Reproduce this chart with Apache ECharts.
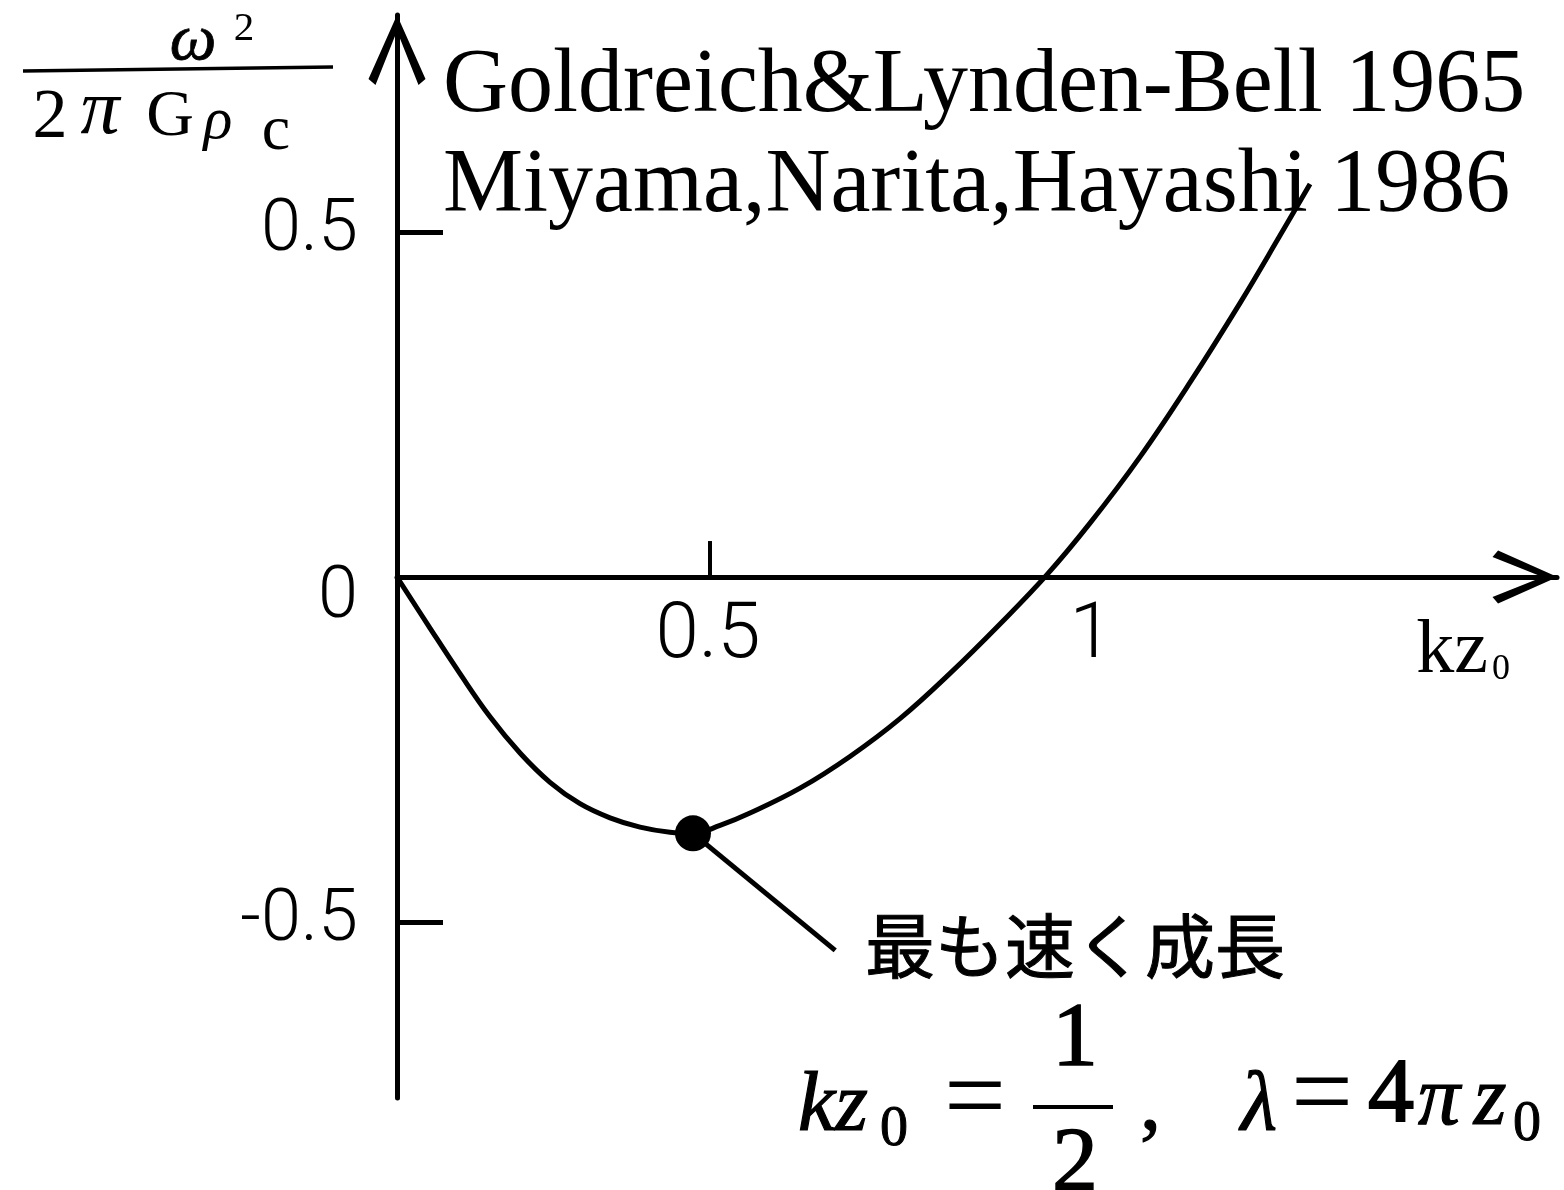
<!DOCTYPE html>
<html>
<head>
<meta charset="utf-8">
<title>ω² / 2πGρc — kz₀</title>
<script src="https://cdn.jsdelivr.net/npm/echarts@6/dist/echarts.min.js"></script>
<style>
  html, body { margin: 0; padding: 0; background: #fff; }
  #chart { width: 1564px; height: 1190px; }
</style>
</head>
<body>
<div id="chart"></div>
<script>
// Dispersion curve of the self-gravitating isothermal sheet:
// growth rate ω²/(2πGρc) against wavenumber kz₀.
const kz = [0, 0.0527, 0.1006, 0.1486, 0.1965, 0.2444, 0.2923, 0.3403, 0.3882, 0.4361, 0.4728,
            0.5160, 0.5639, 0.6438, 0.7236, 0.8035, 0.8834, 0.9633, 1.0383, 1.1070, 1.1869,
            1.2668, 1.3466, 1.4105, 1.4585];
const omega2 = [0, -0.0740, -0.1400, -0.2025, -0.2550, -0.2975, -0.3285, -0.3490, -0.3625, -0.3700, -0.3715,
                -0.3600, -0.3420, -0.3060, -0.2600, -0.2052, -0.1396, -0.0680, 0.0035, 0.0781, 0.1742,
                0.2820, 0.3970, 0.4948, 0.5696];

// Fastest-growing mode and the end of the leader line pointing at its caption
const fastestKz = [0.4728];
const fastestOmega2 = [-0.3715];
const leaderEnd = [0.700, -0.541];

// Tick labels and tick marks
const xTickLabels = [0.5, 1];
const xTickMarks = [0.5];
const yTickLabels = [-0.5, 0, 0.5];
const yTickMarks = [-0.5, 0.5];

const SERIF = '"Liberation Serif", "Times New Roman", serif';
const DIGITS = 'Roboto, "Liberation Sans", sans-serif';
const CJK = '"Noto Sans CJK JP", sans-serif';

const chart = echarts.init(document.getElementById('chart'), null, { renderer: 'canvas' });

// open chevron arrow head, tip at the top
const chevron = 'path://M28.5,0 L57,64 L50,70 L28.5,16 L7,70 L0,64 Z';

function txt(text, x, y, font, align, heavy) {
  const style = {
    text: text, x: x, y: y, font: font, fill: '#000',
    align: align || 'center', textAlign: align || 'center',
    verticalAlign: 'middle', textVerticalAlign: 'middle'
  };
  if (heavy) { style.stroke = '#000'; style.lineWidth = heavy; }
  return { type: 'text', silent: true, style: style };
}
function seg(x1, y1, x2, y2, w) {
  return {
    type: 'line', silent: true,
    shape: { x1: x1, y1: y1, x2: x2, y2: y2 },
    style: { stroke: '#000', lineWidth: w }
  };
}

const option = {
  animation: false,
  backgroundColor: '#fff',
  grid: { left: 397, right: 7, top: 15, bottom: 92, containLabel: false, outerBoundsMode: 'none' },
  xAxis: {
    type: 'value',
    min: 0,
    max: 1.853,
    splitLine: { show: false },
    axisLine: {
      onZero: true,
      lineStyle: { color: '#000', width: 5 },
      symbol: ['none', chevron],
      symbolSize: [53, 65],
      symbolOffset: [0, -32]
    },
    axisTick: { show: true, inside: true, length: 36, customValues: xTickMarks,
                lineStyle: { color: '#000', width: 4 } },
    // labels of this axis are drawn next to the zero line below
    axisLabel: { show: false },
    name: '{k|kz}{s|0}',
    nameLocation: 'end',
    nameGap: -47,
    nameTextStyle: {
      align: 'right',
      verticalAlign: 'top',
      padding: [37, 0, 0, 0],
      rich: {
        k: { fontFamily: SERIF, fontSize: 76, color: '#000', verticalAlign: 'bottom' },
        s: { fontFamily: SERIF, fontSize: 36, color: '#000', verticalAlign: 'bottom', padding: [0, 0, 2, 4] }
      }
    }
  },
  yAxis: {
    type: 'value',
    min: -0.755,
    max: 0.8145,
    splitLine: { show: false },
    axisLine: {
      onZero: true,
      lineStyle: { color: '#000', width: 5 },
      symbol: ['none', chevron],
      symbolSize: [57, 70],
      symbolOffset: [0, -35]
    },
    axisTick: { show: true, inside: true, length: 46, customValues: yTickMarks,
                lineStyle: { color: '#000', width: 5 } },
    axisLabel: {
      customValues: yTickLabels,
      margin: 39,
      color: '#000',
      formatter: function (v) { return v === 0 ? '{z|0}' : '{n|' + v + '}'; },
      rich: {
        n: { fontFamily: DIGITS, fontWeight: 300, fontSize: 72, color: '#000' },
        z: { fontFamily: DIGITS, fontWeight: 300, fontSize: 72, color: '#000', padding: [44, 0, 0, 0] }
      }
    }
  },
  series: [
    {
      type: 'line',
      data: kz.map(function (x, i) { return [x, omega2[i]]; }),
      smooth: 0.4,
      showSymbol: false,
      lineStyle: { color: '#000', width: 5 },
      z: 3
    },
    {
      type: 'scatter',
      data: fastestKz.map(function (x, i) { return [x, fastestOmega2[i]]; }),
      symbol: 'circle',
      symbolSize: 36,
      itemStyle: { color: '#000', opacity: 1 },
      z: 4,
      markLine: {
        silent: true,
        symbol: ['none', 'none'],
        label: { show: false },
        lineStyle: { color: '#000', width: 5, type: 'solid', opacity: 1 },
        data: [[
          { coord: [fastestKz[0], fastestOmega2[0]] },
          { coord: leaderEnd }
        ]]
      }
    }
  ],
  graphic: [
    // vertical axis title: ω² / (2π G ρc)
    txt('ω', 193, 42, 'italic 66px ' + SERIF, 'center', 0.8),
    txt('2', 244, 29, '41px ' + SERIF),
    seg(23, 71, 333, 67, 3.5),
    txt('2', 50, 119, '70px ' + SERIF),
    txt('π', 100, 112, 'italic 78px ' + SERIF),
    txt('G', 170, 118, '66px ' + SERIF),
    txt('ρ', 218, 122, 'italic 60px ' + SERIF),
    txt('c', 276, 132, '64px ' + SERIF),

    // references
    txt('Goldreich&Lynden-Bell 1965', 443, 87, '90px ' + SERIF, 'left'),
    txt('Miyama,Narita,Hayashi 1986', 443, 187, '90px ' + SERIF, 'left'),

    // caption of the fastest-growing mode
    txt('最も速く成長', 865, 946, '70px ' + CJK, 'left', 1),

    // kz0 = 1/2 ,  λ = 4π z0
    txt('kz', 798, 1108, 'italic 84px ' + SERIF, 'left', 1.2),
    txt('0', 880, 1130, '56px ' + SERIF, 'left', 1),
    txt('=', 975, 1103, '110px ' + SERIF),
    txt('1', 1075, 1041, '92px ' + SERIF, 'center', 1.5),
    seg(1033, 1107, 1113, 1107, 4),
    txt('2', 1075, 1166, '92px ' + SERIF, 'center', 1.5),
    txt(',', 1140, 1107, '84px ' + SERIF, 'left', 1.2),
    txt('λ', 1259, 1107, 'italic 84px ' + SERIF, 'center', 1.2),
    txt('=', 1322, 1099, '110px ' + SERIF),
    txt('4', 1391, 1097, '92px ' + SERIF, 'center', 2),
    txt('π', 1439, 1102, 'italic 84px ' + SERIF, 'center', 1.2),
    txt('z', 1490, 1102, 'italic 84px ' + SERIF, 'center', 1.2),
    txt('0', 1527, 1125, '56px ' + SERIF, 'center', 1)
  ]
};

chart.setOption(option);

// Tick labels of the horizontal axis, placed under the zero line at each value's position
const xLabelShift = { 0.5: -2, 1: 68 };
const zeroY = chart.convertToPixel({ yAxisIndex: 0 }, 0);
chart.setOption({
  graphic: xTickLabels.map(function (v, i) {
    const px = chart.convertToPixel({ xAxisIndex: 0 }, v);
    return {
      id: 'xlabel' + i,
      type: 'text',
      silent: true,
      style: {
        text: String(v), x: px + xLabelShift[v], y: zeroY + 60,
        font: '300 78px ' + DIGITS, fill: '#000',
        align: 'center', textAlign: 'center',
        verticalAlign: 'middle', textVerticalAlign: 'middle'
      }
    };
  })
});
</script>
</body>
</html>
